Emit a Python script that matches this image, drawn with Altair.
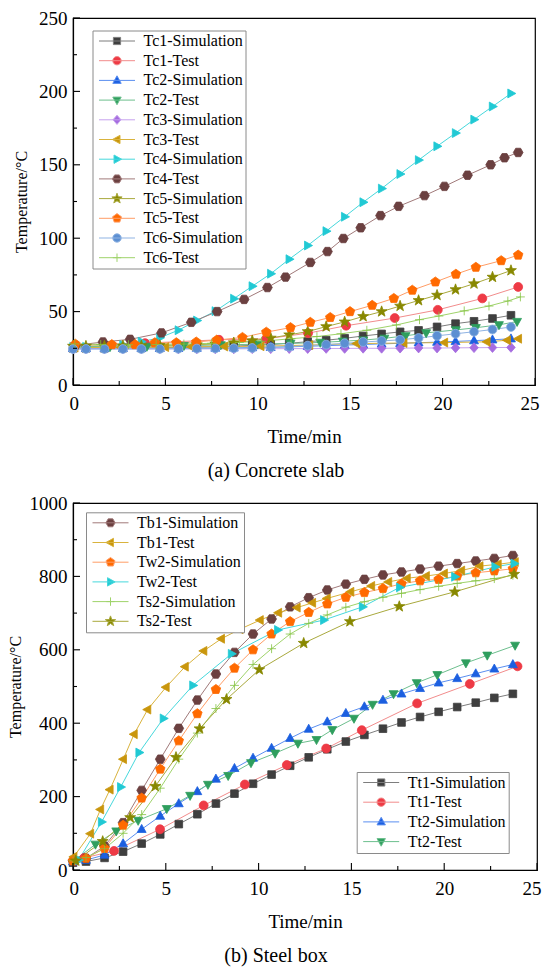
import math
import altair as alt
import pandas as pd

FONT = "Liberation Serif"

# ---------------- data: (a) concrete slab ----------------
SIM_T = [0, 0.7, 1.7, 2.7, 3.7, 4.7, 5.7, 6.7, 7.7, 8.7, 9.7, 10.7, 11.7, 12.7,
         13.7, 14.7, 15.7, 16.7, 17.7, 18.7, 19.7, 20.7, 21.7, 22.7, 23.7]

TC1_SIM = [25.0, 25.0, 25.0, 25.1, 25.2, 25.3, 25.5, 25.8, 26.1, 26.5, 27.0, 27.6, 28.4,
           29.5, 30.5, 31.8, 33.4, 34.8, 36.2, 37.2, 39.6, 41.8, 43.4, 45.3, 47.5]
TC2_SIM = [25.0, 25.0, 25.0, 25.0, 25.0, 25.0, 25.0, 25.1, 25.2, 25.3, 25.5, 25.7, 26.0,
           26.4, 26.8, 27.2, 27.6, 28.0, 28.4, 28.8, 29.2, 29.7, 30.2, 30.8, 31.5]
TC3_SIM = [24.6, 24.6, 24.6, 24.6, 24.6, 24.6, 24.6, 24.6, 24.6, 24.6, 24.7, 24.7, 24.8,
           24.8, 24.9, 24.9, 25.0, 25.0, 25.1, 25.2, 25.2, 25.3, 25.4, 25.5, 25.6]
TC4_SIM = [26.0, 26.0, 26.5, 27.3, 29.5, 32.2, 37.3, 43.9, 50.3, 58.8, 67.3, 75.8, 85.7,
           95.0, 104.8, 114.6, 124.5, 133.8, 143.7, 153.2, 162.6, 171.6, 180.8, 189.7, 198.6]
TC5_SIM = [26.5, 26.5, 26.6, 26.7, 26.8, 27.0, 27.2, 27.5, 28.0, 28.8, 30.2, 32.0, 34.2,
           36.4, 39.8, 43.0, 46.7, 50.0, 53.8, 57.6, 61.2, 65.0, 69.0, 73.5, 78.0]
TC6_SIM = [24.5, 24.5, 24.5, 24.5, 24.5, 24.6, 24.7, 24.8, 24.9, 25.0, 25.2, 25.6, 26.1,
           26.8, 27.5, 28.4, 29.3, 30.0, 30.8, 32.0, 33.5, 34.9, 36.3, 37.8, 39.5]

TC1_TEST_T = [0.1, 3.9, 7.9, 10.46, 12.72, 14.78, 17.41, 19.74, 22.15, 24.09]
TC1_TEST = [27.0, 28.5, 30.8, 31.5, 35.3, 40.4, 45.6, 51.2, 59.0, 66.8]
TC2_TEST_T = [0.1, 2.0, 4.0, 6.0, 8.0, 10.0, 11.77, 13.38, 14.6, 15.71, 16.85, 18.0,
              19.11, 20.72, 21.8, 23.05, 24.03]
TC2_TEST = [26.0, 26.0, 26.3, 26.8, 27.3, 27.8, 28.3, 29.0, 29.8, 30.6, 31.8, 33.5,
            35.5, 37.5, 39.0, 41.0, 43.2]
TC3_TEST_T = [0.1, 2.6, 5.0, 6.4, 8.2, 10.16, 12.8, 15.35, 17.9, 20.1, 22.4, 23.5, 24.1]
TC3_TEST = [25.5, 25.6, 25.8, 26.0, 26.2, 26.4, 27.2, 28.2, 28.6, 28.9, 29.4, 30.5, 31.5]
TC4_TEST_T = [0.13, 1.62, 3.09, 4.79, 6.4, 7.8, 9.26, 10.52, 11.5, 12.84, 13.77, 14.63,
              15.57, 16.64, 17.62, 19.02, 20.1, 21.35, 22.6, 23.35, 24.09]
TC4_TEST = [27.0, 29.3, 31.1, 35.5, 42.7, 50.0, 58.3, 66.4, 73.5, 83.5, 90.9, 99.8,
            107.1, 115.4, 121.7, 129.0, 135.3, 142.9, 150.0, 154.8, 158.4]
TC5_TEST_T = [0.13, 2.1, 3.36, 4.43, 5.59, 6.67, 7.78, 9.17, 10.46, 11.77, 12.84, 13.92,
              14.99, 16.19, 17.36, 18.36, 19.61, 20.72, 21.8, 23.17, 24.09]
TC5_TEST = [27.8, 27.5, 27.5, 28.8, 28.8, 29.3, 30.6, 32.4, 36.0, 39.1, 42.7, 46.0,
            50.0, 54.3, 59.0, 64.6, 70.2, 75.5, 80.2, 84.7, 88.5]
TC6_TEST_T = [0.1, 1.5, 3.0, 4.5, 6.0, 7.5, 9.0, 10.2, 11.8, 13.2, 14.5, 15.9, 17.5,
              18.75, 19.8, 21.17, 22.51, 23.53, 24.21]
TC6_TEST = [28.0, 27.6, 27.4, 27.6, 27.9, 28.4, 29.0, 29.8, 31.5, 33.0, 34.9, 37.3, 40.9,
            44.5, 47.0, 50.5, 53.8, 57.2, 60.0]

# ---------------- data: (b) steel box ----------------
TB1_SIM = [25, 32, 65, 129, 217, 302, 386, 463, 534, 593, 643, 684, 717, 742, 763, 779,
           792, 804, 812, 820, 828, 835, 842, 849, 857]
TW2_SIM = [25, 32, 59, 122, 196, 275, 352, 426, 492, 550, 600, 643, 677, 702, 725, 743,
           756, 767, 780, 788, 792, 801, 810, 815, 821]
TS2_SIM = [25, 34, 58, 100, 151, 223, 302, 373, 440, 503, 560, 603, 643, 672, 695, 716,
           731, 743, 754, 764, 773, 781, 788, 794, 803]
TT1_SIM = [20, 23, 33, 50, 72, 97, 125, 152, 181, 208, 235, 260, 284, 307, 329, 350,
           368, 385, 402, 417, 431, 444, 456, 469, 480]
TT2_SIM = [23, 27, 41, 72, 111, 147, 181, 214, 248, 277, 305, 332, 359, 384, 404, 427,
           445, 463, 480, 495, 510, 522, 535, 548, 560]

TB1_TEST_T = [0.04, 0.94, 1.48, 1.99, 2.71, 3.29, 4.02, 5.01, 6.04, 7.04, 7.99, 8.99,
              10.08, 11.07, 12.07, 12.9, 13.69, 14.96, 16.08, 17.0, 18.0, 19.03, 20.0,
              20.93, 21.92, 22.9, 23.82]
TB1_TEST = [36, 99, 165, 219, 302, 370, 437, 498, 554, 597, 630, 656, 681, 701, 715, 728,
            740, 758, 774, 785, 795, 801, 808, 816, 828, 833, 839]
TW2_TEST_T = [0.3, 1.54, 2.57, 3.56, 4.87, 6.46, 8.54, 11.03, 13.51, 15.6, 17.6, 20.57,
              22.74, 23.77]
TW2_TEST = [27, 131, 226, 320, 413, 503, 589, 654, 681, 717, 770, 799, 826, 835]
TS2_TEST_T = [0.15, 1.6, 3.08, 4.43, 5.55, 6.82, 8.27, 10.04, 12.43, 14.92, 17.58, 20.57, 23.77]
TS2_TEST = [25, 78, 143, 228, 307, 385, 465, 546, 618, 677, 718, 758, 806]
TT1_TEST_T = [0.1, 0.6, 2.21, 4.69, 7.04, 9.26, 11.52, 13.64, 15.56, 18.54, 21.38, 23.95]
TT1_TEST = [25, 33, 52, 111, 176, 233, 286, 331, 381, 454, 507, 555]
TT2_TEST_T = [0.1, 1.21, 2.33, 3.51, 5.05, 6.31, 7.27, 8.36, 9.59, 10.89, 12.12, 13.12,
              13.97, 15.14, 16.14, 17.27, 18.52, 19.63, 21.17, 22.32, 23.82]
TT2_TEST = [27, 70, 106, 135, 167, 203, 233, 257, 292, 318, 345, 355, 382, 413, 451, 480,
            510, 532, 564, 585, 612]

# series names, in legend order
TOP_SERIES = ["Tc1-Simulation", "Tc1-Test", "Tc2-Simulation", "Tc2-Test",
              "Tc3-Simulation", "Tc3-Test", "Tc4-Simulation", "Tc4-Test",
              "Tc5-Simulation", "Tc5-Test", "Tc6-Simulation", "Tc6-Test"]
TOP_DATA = [(SIM_T, TC1_SIM), (TC1_TEST_T, TC1_TEST), (SIM_T, TC2_SIM), (TC2_TEST_T, TC2_TEST),
            (SIM_T, TC3_SIM), (TC3_TEST_T, TC3_TEST), (SIM_T, TC4_SIM), (TC4_TEST_T, TC4_TEST),
            (SIM_T, TC5_SIM), (TC5_TEST_T, TC5_TEST), (SIM_T, TC6_SIM), (TC6_TEST_T, TC6_TEST)]
BOT_LEG_A = ["Tb1-Simulation", "Tb1-Test", "Tw2-Simulation", "Tw2-Test",
             "Ts2-Simulation", "Ts2-Test"]
BOT_LEG_B = ["Tt1-Simulation", "Tt1-Test", "Tt2-Simulation", "Tt2-Test"]
BOT_SERIES = BOT_LEG_B + BOT_LEG_A
BOT_DATA = [(SIM_T, TT1_SIM), (TT1_TEST_T, TT1_TEST), (SIM_T, TT2_SIM), (TT2_TEST_T, TT2_TEST),
            (SIM_T, TB1_SIM), (TB1_TEST_T, TB1_TEST), (SIM_T, TW2_SIM), (TW2_TEST_T, TW2_TEST),
            (SIM_T, TS2_SIM), (TS2_TEST_T, TS2_TEST)]

X_MAJOR = [0, 5, 10, 15, 20, 25]
X_MINOR = [2.5, 7.5, 12.5, 17.5, 22.5]
TOP_Y_MAJOR = [0, 50, 100, 150, 200, 250]
TOP_Y_MINOR = [25, 75, 125, 175, 225]
BOT_Y_MAJOR = [0, 200, 400, 600, 800, 1000]
BOT_Y_MINOR = [100, 300, 500, 700, 900]

# ---------------- styles per series ----------------
STYLE = {
    # name: (shape, marker colour, line colour)
    "gray": ("square", "#3f3f3f", "#7d7d7d"),
    "red": ("circle", "#ee3a45", "#f28c8c"),
    "blue": ("tri_up", "#1c5fe0", "#5a8ef0"),
    "green": ("tri_down", "#2f9e5e", "#6dbf8e"),
    "purple": ("diamond", "#a66ce0", "#c6a2ee"),
    "gold": ("tri_left", "#c9960c", "#d9b33d"),
    "cyan": ("tri_right", "#21c9d4", "#46d8dc"),
    "brown": ("hexagon", "#6b4040", "#a17a7a"),
    "olive": ("star", "#888800", "#a9a93d"),
    "orange": ("pentagon", "#ff6a00", "#ff9d66"),
    "sphere": ("circle", "#5c8fd2", "#8fb3e3"),
    "lgreen": ("plus", "#84c341", "#9fd36a"),
}
SERIES_STYLE = {
    "Tc1-Simulation": "gray", "Tc1-Test": "red", "Tc2-Simulation": "blue", "Tc2-Test": "green",
    "Tc3-Simulation": "purple", "Tc3-Test": "gold", "Tc4-Simulation": "cyan", "Tc4-Test": "brown",
    "Tc5-Simulation": "olive", "Tc5-Test": "orange", "Tc6-Simulation": "sphere", "Tc6-Test": "lgreen",
    "Tb1-Simulation": "brown", "Tb1-Test": "gold", "Tw2-Simulation": "orange", "Tw2-Test": "cyan",
    "Ts2-Simulation": "lgreen", "Ts2-Test": "olive", "Tt1-Simulation": "gray", "Tt1-Test": "red",
    "Tt2-Simulation": "blue", "Tt2-Test": "green",
}


# ---------------- marker paths (unit coords) ----------------
def poly(pts, dx=0.0):
    return "M" + "L".join(f"{x + dx:.3f},{y:.3f}" for x, y in pts) + "Z"


def regular(n, r, start):
    return [(r * math.cos(math.radians(start + 360 * k / n)),
             r * math.sin(math.radians(start + 360 * k / n))) for k in range(n)]


def star_pts(ro, ri):
    out = []
    for k in range(10):
        r = ro if k % 2 == 0 else ri
        a = math.radians(-90 + 36 * k)
        out.append((r * math.cos(a), r * math.sin(a)))
    return out


def circle(r, dx=0.0):
    return (f"M{dx - r:.3f},0A{r},{r} 0 1,0 {dx + r:.3f},0"
            f"A{r},{r} 0 1,0 {dx - r:.3f},0Z")


def shape_path(name, dx=0.0):
    if name == "square":
        return poly([(-0.9, -0.9), (0.9, -0.9), (0.9, 0.9), (-0.9, 0.9)], dx)
    if name == "circle":
        return circle(1.05, dx)
    if name == "tri_up":
        return poly([(0, -1.15), (1.05, 0.75), (-1.05, 0.75)], dx)
    if name == "tri_down":
        return poly([(0, 1.15), (1.05, -0.75), (-1.05, -0.75)], dx)
    if name == "tri_left":
        return poly([(-1.15, 0), (0.75, -1.05), (0.75, 1.05)], dx)
    if name == "tri_right":
        return poly([(1.15, 0), (-0.75, -1.05), (-0.75, 1.05)], dx)
    if name == "diamond":
        return poly([(0, -1.15), (1.0, 0), (0, 1.15), (-1.0, 0)], dx)
    if name == "hexagon":
        return poly(regular(6, 1.15, 0), dx)
    if name == "pentagon":
        return poly(regular(5, 1.18, -90), dx)
    if name == "star":
        return poly(star_pts(1.35, 0.55), dx)
    if name == "plus":
        return f"M{dx - 1.05:.3f},0H{dx + 1.05:.3f}M{dx:.3f},-1.05V1.05"
    raise ValueError(name)


def legend_path(name):
    return "M-1,0H8" + shape_path(name, 3.5)


def long_df(names, data):
    rows = []
    for name, (ts, vs) in zip(names, data):
        for t, v in zip(ts, vs):
            rows.append({"series": name, "t": t, "T": v})
    return pd.DataFrame(rows)


def axis_x():
    return alt.Axis(values=X_MAJOR, ticks=False, tickSize=0, grid=False,
                    domainColor="black", domainWidth=1.2, labelFont=FONT,
                    labelFontSize=19, labelColor="black", labelPadding=9,
                    labelFlush=True, labelFlushOffset=4, labelOverlap=False, format="d",
                    titleFont=FONT, titleFontSize=19, titleFontWeight="normal",
                    titleColor="black", titlePadding=14)


def axis_y(vals, tpad):
    return alt.Axis(values=vals, ticks=False, tickSize=0, grid=False,
                    domainColor="black", domainWidth=1.2, labelFont=FONT,
                    labelFontSize=19, labelColor="black", labelPadding=6,
                    labelFlush=False, labelOverlap=False, format="d",
                    titleFont=FONT, titleFontSize=16, titleFontWeight="normal",
                    titleColor="black", titlePadding=tpad)


def panel(names, data, legends, W, H, ydom, ymaj, ymin, tpad, caption, cap_dx):
    df = long_df(names, data)
    X = alt.X("t:Q", title="Time/min", scale=alt.Scale(domain=[0, 25], nice=False, zero=False),
              axis=axis_x())
    Y = alt.Y("T:Q", title="Temperature/°C", scale=alt.Scale(domain=ydom, nice=False),
              axis=axis_y(ymaj, tpad))
    shapes = [shape_path(STYLE[SERIES_STYLE[n]][0]) for n in names]
    fills = [STYLE[SERIES_STYLE[n]][1] for n in names]
    lcols = [STYLE[SERIES_STYLE[n]][2] for n in names]
    strokes = [STYLE[SERIES_STYLE[n]][2] if SERIES_STYLE[n] == "sphere"
               else STYLE[SERIES_STYLE[n]][1] for n in names]

    lines = alt.Chart(df).mark_line(strokeWidth=1).encode(
        x=X, y=Y,
        color=alt.Color("series:N", scale=alt.Scale(domain=names, range=lcols), legend=None))
    pts = alt.Chart(df).mark_point(filled=True, size=72, strokeWidth=0.8, opacity=1).encode(
        x=X, y=Y,
        fill=alt.Fill("series:N", scale=alt.Scale(domain=names, range=fills), legend=None),
        stroke=alt.Stroke("series:N", scale=alt.Scale(domain=names, range=strokes), legend=None),
        shape=alt.Shape("series:N", scale=alt.Scale(domain=names, range=shapes), legend=None))
    layers = [lines, pts]

    # inward ticks
    xmaj = pd.DataFrame({"t": X_MAJOR})
    xmin = pd.DataFrame({"t": X_MINOR})
    ymj = pd.DataFrame({"T": ymaj})
    ymn = pd.DataFrame({"T": ymin})
    layers += [
        alt.Chart(xmaj).mark_rule(color="black", strokeWidth=1.1).encode(
            x=X, y=alt.value(H), y2=alt.value(H - 7)),
        alt.Chart(xmin).mark_rule(color="black", strokeWidth=1.1).encode(
            x=X, y=alt.value(H), y2=alt.value(H - 4)),
        alt.Chart(ymj).mark_rule(color="black", strokeWidth=1.1).encode(
            y=Y, x=alt.value(0), x2=alt.value(7)),
        alt.Chart(ymn).mark_rule(color="black", strokeWidth=1.1).encode(
            y=Y, x=alt.value(0), x2=alt.value(4)),
    ]

    for grp, lx, ly in legends:
        gf = [STYLE[SERIES_STYLE[n]][1] for n in grp]
        gl = [STYLE[SERIES_STYLE[n]][2] for n in grp]
        gs = [legend_path(STYLE[SERIES_STYLE[n]][0]) for n in grp]
        leg = alt.Legend(orient="none", legendX=lx, legendY=ly, title=None, padding=2.5,
                         strokeColor="#8a8a8a", fillColor="white", labelFont=FONT,
                         labelFontSize=16, labelColor="black", labelOffset=32.5,
                         symbolSize=64, symbolStrokeWidth=1, rowPadding=3.7,
                         labelLimit=400, symbolOpacity=1)
        ldf = pd.DataFrame({"series": grp})
        layers.append(
            alt.Chart(ldf).transform_filter("false").mark_point(
                filled=True, size=64, strokeWidth=1, opacity=1).encode(
                fill=alt.Fill("series:N", scale=alt.Scale(domain=grp, range=gf), legend=leg),
                stroke=alt.Stroke("series:N", scale=alt.Scale(domain=grp, range=gl), legend=leg),
                shape=alt.Shape("series:N", scale=alt.Scale(domain=grp, range=gs), legend=leg)))

    return alt.layer(*layers).resolve_scale(
        color="independent", fill="independent", stroke="independent", shape="independent"
    ).properties(
        width=W, height=H,
        title=alt.TitleParams(caption, orient="bottom", anchor="middle", font=FONT,
                              fontSize=20, fontWeight="normal", color="black",
                              offset=15, dx=cap_dx))


top = panel(TOP_SERIES, TOP_DATA, [(TOP_SERIES, 19.5, 12.5)], 462, 367,
            [0, 250], TOP_Y_MAJOR, TOP_Y_MINOR, 9, "(a) Concrete slab", -28)
bottom = panel(BOT_SERIES, BOT_DATA, [(BOT_LEG_A, 13, 9.3), (BOT_LEG_B, 283.7, 269)], 464, 367,
               [0, 1000], BOT_Y_MAJOR, BOT_Y_MINOR, 6, "(b) Steel box", -29)

PAD = {"left": -2, "top": 0, "right": 0, "bottom": 0}
chart = alt.concat(top, bottom, columns=1, spacing=11, align="none").properties(
    padding=PAD
).configure(padding=PAD).configure_axis(
    titleFontWeight="normal", labelFont=FONT, titleFont=FONT
).configure_view(stroke="black", strokeWidth=1.2)

chart.save("out.html", embed_options={"renderer": "svg", "actions": False})
